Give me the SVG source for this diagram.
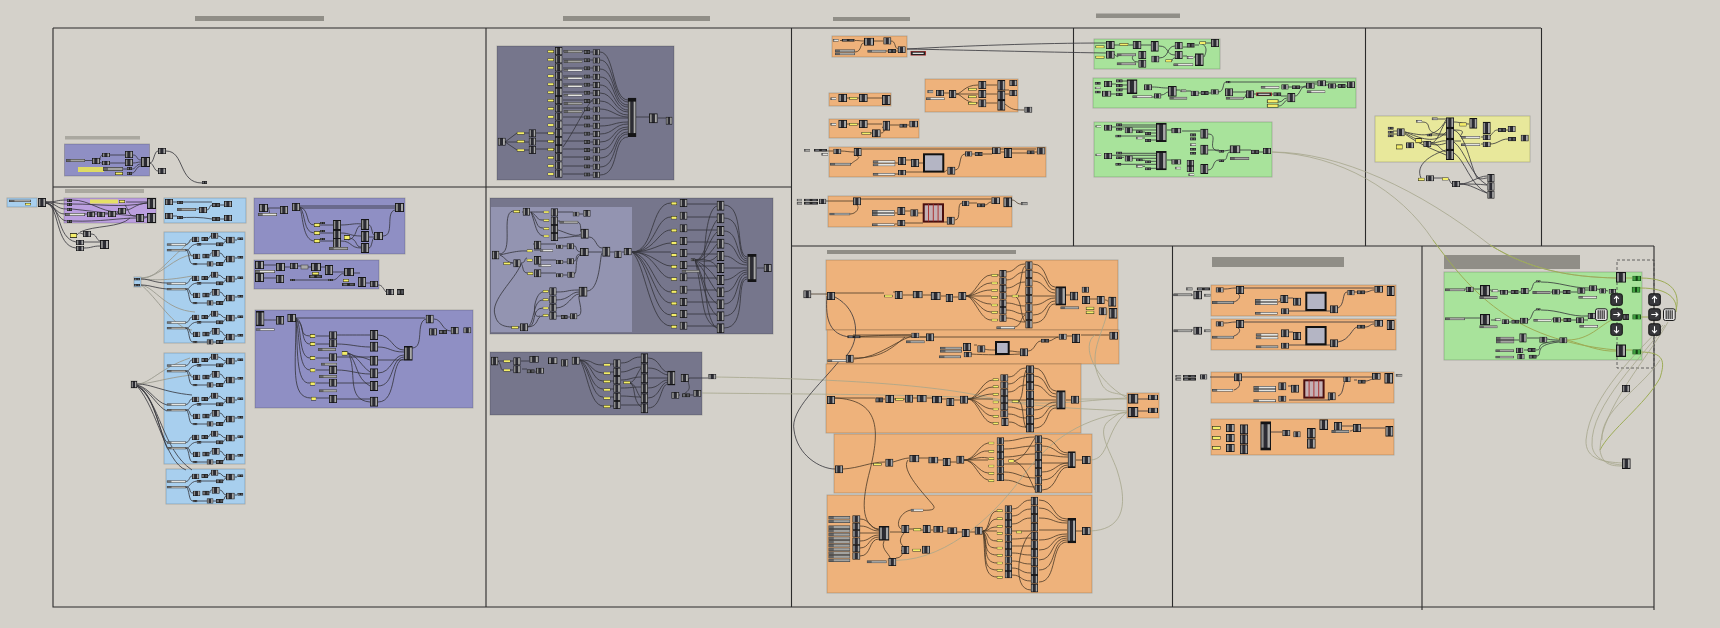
<svg xmlns="http://www.w3.org/2000/svg" width="1720" height="628" viewBox="0 0 1720 628">
<style>
.f{fill:none;stroke:#2b2b2b;stroke-width:1.1}
.t{fill:#908e87}
.p{stroke-width:1;stroke:#000;stroke-opacity:.18}
.o{fill:#eeb27b}.u{fill:#8f8fc4}.b{fill:#a8cfee}.k{fill:#76768c}.n{fill:#a8e39b}
.w,.v,.a,.q,.e{fill:none}
.w{stroke:#34343a;stroke-width:.8}
.v{stroke:#4a3a28;stroke-width:.8}
.a{stroke:#9a9a8e;stroke-width:.9}
.q{stroke:#9dac55;stroke-width:1}
.e{stroke:#a6a68c;stroke-width:.8}
</style>
<defs>
<symbol id="c" viewBox="0 0 10 10" preserveAspectRatio="none"><rect width="10" height="10" fill="#141416"/><rect x="1" y="1" width="2.2" height="8" fill="#8d8d8d"/><rect x="6.6" y="1" width="2.4" height="8" fill="#a8a8a8"/><rect x="3.4" y="1" width="3" height="8" fill="#2c2c34"/></symbol>
<symbol id="s" viewBox="0 0 10 10" preserveAspectRatio="none"><rect width="10" height="10" fill="#222"/><rect x="1" y="2" width="3" height="6" fill="#6f7076"/><rect x="6" y="2" width="3" height="6" fill="#55565c"/></symbol>
<symbol id="l" viewBox="0 0 10 10" preserveAspectRatio="none"><rect width="10" height="10" fill="#3c3c3c"/><rect x=".3" y="2" width="2" height="6" fill="#777"/><rect x="2.4" y="2" width="7.3" height="6" fill="#e4e4e0"/></symbol>
<symbol id="m" viewBox="0 0 10 10" preserveAspectRatio="none"><rect width="10" height="10" fill="#444"/><rect x=".3" y="2" width="2" height="6" fill="#666"/><rect x="2.4" y="2" width="7.3" height="6" fill="#a3a3a0"/></symbol>
<symbol id="y" viewBox="0 0 10 10" preserveAspectRatio="none"><rect width="10" height="10" fill="#2b2b20"/><rect x=".8" y="1.8" width="8.4" height="6.4" fill="#f4ee6a"/></symbol>
<symbol id="d" viewBox="0 0 10 10" preserveAspectRatio="none"><rect width="10" height="10" fill="#b93a3a"/><rect x=".5" y="1.2" width="9" height="7.6" fill="#222"/><rect x="1.5" y="3.6" width="7" height="2.8" fill="#ddd"/></symbol>
<symbol id="g" viewBox="0 0 10 10" preserveAspectRatio="none"><rect width="10" height="10" fill="#1a4d1a"/><rect x="1" y="1" width="3" height="8" fill="#3fa03f"/><rect x="6" y="1" width="3" height="8" fill="#3fa03f"/><rect x="4" y="1" width="2" height="8" fill="#154015"/></symbol>
<g id="sq"><rect x="1" y="1" width="19.3" height="17.3" fill="#b4b5c4" stroke="#111" stroke-width="2"/></g>
<g id="gd"><rect x="1" y="1" width="19.3" height="17.3" fill="#c4b0b4" stroke="#4a0f0f" stroke-width="2"/><path d="M5.8,1V18M10.6,1V18M15.4,1V18" stroke="#a33" stroke-width="1"/></g>
<g id="bt"><rect x=".5" y=".5" width="11.5" height="11.5" rx="2" fill="#38383c" stroke="#111"/></g>
<g id="gb"><rect x=".5" y=".5" width="11.7" height="11.7" rx="2" fill="#e4e4e4" stroke="#1a1a1a"/><path d="M3.2,2V10.7M5.2,2V10.7M7.2,2V10.7M9.2,2V10.7" stroke="#333" stroke-width="1.2"/></g>
<g id="up"><use href="#bt"/><path d="M6.2,9.5V3M3.8,5.5L6.2,3L8.6,5.5" fill="none" stroke="#fff" stroke-width="1.1"/></g>
<g id="rt"><use href="#bt"/><path d="M3,6.2H9.5M7.3,4L9.5,6.2L7.3,8.4" fill="none" stroke="#fff" stroke-width="1.1"/></g>
<g id="dn"><use href="#bt"/><path d="M6.2,3V9.5M3.8,7L6.2,9.5L8.6,7" fill="none" stroke="#fff" stroke-width="1.1"/></g>
<g id="mod">
<path class="w" d="M22,12.5C26,12 25,7 28,7M22,18C27,18 25,13 33,12M22,18C28,18 24,24 29,24M22,18C26,20 24,32 29,32M44,7C46,7 45,4 47,4M54,4C58,4 58,8 62,8M37,12H52M59,12C60,12 60,9 62,9M71,8H73M46,24C46,21 47,21 48,21M56,21C59,21 59,26 62,26M33,32H43M49,32H52M59,31C61,31 60,27 62,27M71,26H73"/>
<use href="#c" x="28" y="4.7" width="7.3" height="5.3"/><use href="#s" x="37.3" y="5" width="6.7" height="4"/><use href="#c" x="47" y=".7" width="7.3" height="6"/><use href="#c" x="62" y="4.7" width="8.7" height="6.7"/><use href="#s" x="73.3" y="5.3" width="6" height="2.7"/><use href="#s" x="32.7" y="11" width="4.7" height="2.7"/><use href="#s" x="52" y="10.3" width="7.3" height="4"/><use href="#c" x="29" y="21.7" width="7.3" height="5.3"/><use href="#s" x="38.3" y="21.7" width="7.3" height="4.7"/><use href="#c" x="47.7" y="18" width="8" height="6.7"/><use href="#c" x="62" y="23.7" width="8.7" height="6.7"/><use href="#s" x="73.3" y="24" width="6" height="2.7"/><use href="#s" x="28.7" y="31" width="4.7" height="2.3"/><use href="#c" x="42.7" y="29.3" width="6.7" height="5.3"/><use href="#s" x="52" y="30" width="7.3" height="4"/><use href="#l" x="2.7" y="11.3" width="19.3" height="2.5"/><use href="#m" x="2.7" y="17" width="19.3" height="2.5"/>
</g>
<g id="gr"><use href="#y" x="547.5" y="50" width="6.5" height="3"/><use href="#c" x="555" y="47" width="7.5" height="8.2"/><use href="#s" x="584" y="50" width="6" height="4"/><use href="#c" x="592.7" y="49.3" width="7.3" height="6"/></g>
<g id="gm"><use href="#w0"/><use href="#c" x="1104" y="124.7" width="8" height="6"/><use href="#s" x="1116" y="123.3" width="6" height="3"/><use href="#s" x="1116" y="128" width="6" height="2.7"/><use href="#s" x="1115.3" y="134.7" width="6" height="2.7"/><use href="#c" x="1124.7" y="127.3" width="8" height="6"/><use href="#l" x="1095.3" y="125.3" width="6" height="2.3"/><use href="#s" x="1136" y="130.3" width="6.7" height="2.7"/><use href="#s" x="1145" y="132" width="6" height="3"/><use href="#l" x="1136" y="136.7" width="6.7" height="2.7"/><use href="#s" x="1145" y="139" width="6" height="3"/><use href="#c" x="1156" y="122.7" width="10.7" height="19.3"/></g>
<path id="w0" class="w" d="M1112,127H1156M1122,125H1156M1122,129H1124M1132,130H1156M1121,136H1156M1142,132H1145M1151,133H1156M1143,138H1145M1151,140H1156"/>
</defs>
<rect width="1720" height="628" fill="#d4d1ca"/>
<g id="frames">
<path class="f" d="M53,28H1541M53,28V607H1654M53,187H791M486,28V607M791.5,28V607M1073.5,28V246M1365.5,28V246M1541.5,28V246M791,246H1654M1172.5,246V607M1422,246V610M1654,246V610"/>
<rect class="t" x="195" y="16" width="129" height="5"/><rect class="t" x="563" y="16" width="147" height="5"/><rect class="t" x="833" y="17" width="77" height="4"/><rect class="t" x="1096" y="13.5" width="84" height="4.5"/><rect class="t" x="827" y="250" width="189" height="4"/><rect class="t" x="1212" y="257" width="132" height="10"/><rect class="t" x="1444" y="255" width="136" height="14"/>
<rect x="65" y="136" width="75" height="3.5" fill="#aaa8a0"/><rect x="65" y="189" width="79" height="4" fill="#aaa8a0"/>
</g>
<g id="panels">
<rect class="p u" x="64.5" y="144" width="85" height="32"/><rect class="p" fill="#bb9fdf" x="64" y="198" width="92" height="25"/><rect class="p b" x="7" y="198" width="30" height="9"/><rect class="p b" x="164" y="198" width="82" height="25"/><rect class="p b" x="164" y="232" width="81" height="111"/><rect class="p b" x="164" y="353" width="81" height="111"/><rect class="p b" x="166" y="469" width="79" height="35"/><rect class="p b" x="134" y="277" width="7" height="10"/><rect class="p b" x="131" y="381" width="6" height="7"/>
<rect class="p u" x="254" y="198" width="151" height="56"/><rect class="p u" x="254" y="260" width="125" height="29"/><rect class="p u" x="255" y="310" width="218" height="98"/>
<rect class="p k" x="497" y="46" width="177" height="134"/><rect class="p k" x="490" y="198" width="283" height="136"/><rect x="491" y="207" width="141" height="125" fill="#9394b1"/><rect class="p k" x="490" y="352" width="212" height="63"/>
<rect class="p o" x="832" y="36" width="75" height="21"/><rect class="p o" x="925" y="79" width="93" height="33"/><rect class="p o" x="829" y="93" width="62" height="13"/><rect class="p o" x="829" y="119" width="90" height="19"/><rect class="p o" x="829" y="147" width="217" height="30"/><rect class="p o" x="828" y="196" width="184" height="31"/>
<rect class="p o" x="826" y="260" width="292" height="70"/><rect class="p o" x="827" y="330" width="292" height="34"/><rect class="p o" x="826" y="364" width="255" height="69"/><rect class="p o" x="834" y="434" width="258" height="59"/><rect class="p o" x="827" y="495" width="265" height="98"/><rect class="p o" x="1127" y="393" width="32" height="25"/>
<rect class="p o" x="1211" y="285" width="185" height="31"/><rect class="p o" x="1211" y="319" width="185" height="31"/><rect class="p o" x="1211" y="372" width="183" height="31"/><rect class="p o" x="1211" y="419" width="183" height="36"/>
<rect class="p n" x="1094" y="39" width="126" height="30"/><rect class="p n" x="1093" y="78" width="263" height="30"/><rect class="p n" x="1094" y="122" width="178" height="55"/><rect class="p" fill="#e8e89b" x="1375" y="116" width="155" height="46"/><rect class="p n" x="1444" y="272" width="198" height="88"/>
<rect x="1617" y="260" width="37" height="108" fill="none" stroke="#444" stroke-width=".8" stroke-dasharray="3 2"/>
</g>
<g id="connectors">
<path class="w" d="M46,202C58,202 55,200 67,200M46,202C58,202 56,204 67,204M46,202C58,204 56,209 67,209M46,203C56,205 55,214 65,214M46,203C56,205 58,221 67,221M46,203C62,205 56,238 76,242M46,203C60,206 55,246 76,248M84,242H100M84,248C92,248 92,246 100,246M77,235C79,232 80,233 83,234M91,234C97,234 96,240 100,241M72,200C90,200 100,212 118,212M72,204C100,204 120,208 147,203M72,209C100,212 120,215 147,217M85,214H87M95,214H97M105,214H108M116,214C118,214 118,211 118,211M126,210C132,210 135,204 147,203M72,221C100,222 120,218 136,218M126,202H147M144,218C146,218 146,217 147,217M125,205C130,212 128,216 136,216M130,218C120,228 95,225 80,232"/>
<path class="w" d="M150,163C154,163 154,151 158,151M150,163C154,164 154,171 158,171M166,151C185,151 178,183 202,183M85,160.5H92M100,160C100,156 102,155 102,155M100,162C100,163 102,163 102,163M110,155H125M110,163H125M133,155C138,155 136,160 141,160M133,163C137,163 137,162 141,162M123,169H127M132,169C136,169 136,164 141,164M132,173C136,173 136,166 141,166"/>
<path class="w" d="M177,202H212M173,202H177M196,209H199M207,210C210,210 209,205 212,205M177,218C190,217 200,217 212,219M220,205H224M220,219H224M173,216H177"/>
<path class="a" d="M141,278C157,278 160,267 192,240M141,278C160,278 175,255 193,255M141,279C150,279 160,282 192,276M141,285C155,287 165,310 195,312M141,285C155,295 175,330 192,330M137,384C150,384 160,368 190,358M137,384C150,384 165,378 192,375"/>
<path class="w" d="M141,279C150,279 155,283 167,283M141,285C150,285 155,288 167,289M137,384C152,384 162,392 192,395M137,385C150,388 155,402 167,405M137,385C150,390 158,408 167,411M137,386C155,392 160,440 168,443M137,386C155,394 163,445 168,449M137,386C160,400 162,450 192,470M137,386C158,410 165,462 186,470"/>
<path class="w" d="M268,208H280M268,208C272,215 265,214 277,214M300,206H395M300,208H395M300,207C310,210 305,225 314,225M300,207C306,215 303,232 314,233M300,207C303,218 303,240 314,241M320,225H333M320,233H333M320,241H333M341,225C350,225 355,223 361,224M341,233C350,233 350,236 361,236M341,241C352,241 350,248 361,248M348,240C358,238 355,225 361,226M350,238C358,240 355,247 361,247M369,225C372,225 372,235 374,235M369,237H374M369,248C372,248 372,238 374,238M383,236C395,236 385,212 395,210"/>
<path class="w" d="M264,265H276M264,278H276M285,267H290M298,266H301M308,267H311M321,267H325M333,272C338,272 338,272 344,272M295,280H328M333,280C338,280 340,272 344,274M352,273H360M378,285C382,285 382,287 386,292M366,283H370"/>
<path class="w" d="M264,320C270,320 270,320 276,320M296,318H425M296,320C306,325 298,336 310,336M296,318C305,322 300,344 310,344M296,318C302,325 298,358 310,358M296,318C300,335 298,370 310,370M296,318C298,345 295,385 310,383M296,318C296,365 290,398 311,398M316,336H329M316,344H329M316,358H329M316,370H329M316,383H329M316,398H329M337,335C350,335 355,335 370,335M337,344C350,344 358,347 370,347M337,357H370M337,370C350,370 358,374 370,374M337,383H370M337,399H370M348,353C358,358 358,355 370,360M348,353C360,358 360,365 370,372M348,353C358,362 355,378 370,386M348,353C358,370 345,400 370,402M378,335C392,335 392,350 404,350M378,347C390,347 390,352 404,352M378,360H404M378,373C392,373 392,355 404,355M378,386C395,386 390,358 404,357M378,402C398,402 390,360 404,359M412,348C425,348 415,322 426,319M434,319C442,319 442,331 451,331"/>
<path class="w" d="M505,142L517,133M505,142H517M505,142L517,150M525,133H529M525,142H529M525,150H529M536,133H555M536,141H555M536,149H555M600,52C615,52 612,100 628,100M600,60C615,60 612,102 628,102M600,69C616,69 612,105 628,105M600,77C616,77 612,107 628,107M600,85C614,85 614,110 628,110M600,93C614,93 614,112 628,112M600,101C614,101 614,115 628,115M600,109C612,109 616,117 628,117M600,118H628M600,126C614,126 614,122 628,122M600,134C614,134 614,124 628,124M600,142C616,142 612,127 628,127M600,150C616,150 612,129 628,129M600,158C618,158 612,132 628,132M600,167C618,167 612,134 628,134M600,175C620,175 612,137 628,137M636,117H649M658,118H666M563,51H584M563,59H584M563,68H584M563,76H584M563,84H584M563,92H584M563,100H584M563,108H584M563,117H584M563,125H584M563,133H584M563,141H584M563,149H584M563,157H584M563,166H584M563,174H584M590,52H593M590,60H593M590,68H593M590,77H593M590,85H593M590,93H593M590,101H593M590,109H593M590,118H593M590,126H593M590,134H593M590,142H593M590,150H593M590,158H593M590,166H593M590,175H593"/>
<path class="w" stroke-width="1.3" d="M563,147C575,130 582,112 593,99"/>
<path class="w" d="M499,254C515,254 500,213 513,211M522,212H530M530,212C540,212 538,212 543,212M531,212C540,218 536,220 543,220M531,212C538,222 536,228 543,228M531,212C536,226 536,234 543,236M558,212H573M579,214H583M558,221H560M578,222C582,224 580,230 581,232M558,230C565,232 575,238 581,234M558,238C566,238 572,236 581,236M500,255C506,258 506,262 513,263M511,263H513M500,255C520,250 524,251 527,251M521,263C526,263 524,258 527,258M521,263C524,268 522,272 527,273M521,264C515,280 490,300 495,315C498,328 508,327 520,327M540,250H534M533,244H534M541,244H556M541,260H556M541,273H556M563,246H567M563,262H567M563,275H567M574,246C578,246 574,250 580,252M574,261C578,261 574,255 580,254M574,274C578,274 574,258 580,255M588,252H602M589,237C596,237 596,248 602,248M610,252H614M622,252H624M540,316C530,320 535,292 543,292M527,327C535,325 532,300 543,300M527,327C538,327 530,308 543,308M527,327C540,327 535,316 543,316M556,292C570,292 565,290 579,290M556,300C570,300 570,292 579,292M556,308C568,308 572,294 579,294M556,316H561M567,317H570M577,316C585,316 578,300 579,296M587,291C600,291 600,255 602,253"/>
<path class="w" d="M632,252C655,252 650,203 671,203M632,252C655,252 655,217 671,217M632,252C655,252 658,230 671,230M632,252C652,252 660,243 671,243M632,252H671M632,252C652,252 660,266 671,266M632,252C655,252 658,278 671,278M632,252C652,256 655,292 671,292M632,252C650,258 655,303 671,303M632,252C650,260 652,315 671,315M632,252C645,262 650,326 671,326M687,204H717M687,217H717M687,230H717M687,242H717M687,254H717M687,266H717M687,278H717M687,290H717M687,302H717M687,314H717M687,326H717M724,205C745,205 735,256 747,257M724,218C745,218 735,258 747,259M724,231C740,231 735,260 747,261M724,243C738,243 735,262 747,263M724,256C735,256 735,265 747,265M724,268H747M724,280C735,280 738,270 747,270M724,292C738,292 735,272 747,272M724,304C740,304 735,274 747,274M724,316C745,316 735,277 747,277M724,328C748,328 735,279 747,279M757,268H764M695,260C700,258 715,260 717,268M695,260C705,262 712,262 717,256M695,260C705,262 712,250 717,244M695,260C705,262 708,240 717,232M695,260C705,262 708,230 717,220M695,260C705,265 712,272 717,280M695,260C705,270 708,280 717,292M695,260C705,280 705,295 717,304M695,260C705,285 705,305 717,316M695,260C705,300 700,320 717,328M717,206C700,210 700,320 717,328"/>
<path class="w" d="M498,361C502,361 500,361 503,361M498,361C502,365 500,370 503,370M510,361H513M510,370H513M521,361H529M522,369H527M535,372H536M580,360C595,360 590,365 603,365M580,360C592,362 590,372 603,373M580,360C592,362 592,381 603,381M580,360C590,365 590,388 603,389M580,360C590,370 592,397 603,397M580,360C588,375 590,405 603,406M610,364H614M610,372H614M610,381H614M610,389H614M610,397H614M610,406H614M621,363C632,363 630,357 641,357M621,372C630,372 632,367 641,367M621,380C630,380 632,377 641,377M621,388C632,388 630,387 641,387M621,396C630,396 632,397 641,397M621,405H641M630,383C636,380 636,375 641,368M630,383C636,384 636,392 641,398M630,383C636,385 632,400 641,407M648,358C660,358 660,372 668,372M648,368C660,368 660,374 668,375M648,378H668M648,388C660,388 660,380 668,380M648,398C660,398 660,382 668,382M648,408C662,408 660,384 668,384M689,378H708M689,378C686,385 695,388 682,395M680,395H672M690,395H693"/>
<path class="e" d="M716,377C770,378 900,380 977,395C1040,410 1080,400 1127,398M702,393C780,394 900,394 982,398C1040,408 1090,409 1127,411"/>
<path class="w" d="M907,49C960,46 1040,43 1106,43M907,49C960,50 1040,52 1106,53"/>
<path class="v" d="M840,40.5H842M855,40.5C860,40.5 860,41 864,41M855,52C862,52 860,42 864,43M874,41H883M891,41C896,41 894,48 898,49M886,51H888M896,51H898M944,93H949M956,94C962,94 964,85 978,85M956,94H978M956,94C962,94 964,103 978,103M986,85H997M986,94H997M986,103H997M1005,90H1009M1005,94H1009M1005,104C1012,110 1015,110 1024,110M846,98H849M858,98H859M867,98H882M846,124H849M858,124H859M867,124H882M890,125H899M907,125H909M871,133H872M881,133C885,133 885,128 882,127"/>
<path class="v" d="M827,151H833M841,151C846,151 848,152 854,152M862,149H1036M851,164C855,160 862,158 857,156M895,163H898M895,174H898M906,172H923M906,160H911M919,163H923M944,172C946,172 946,170 947,170M955,170C962,170 958,154 965,154M972,154H975M983,154H992M1001,152H1004M1012,153H1027M1035,152H1037M826,201H853M861,199H991M850,214C856,214 860,208 857,205M895,213H897M895,224H897M905,223H923M905,211H910M918,213H923M944,222H947M955,220C962,220 956,203 962,203M969,203H977M985,205C988,205 988,202 991,202M1012,200C1016,200 1016,204 1021,204"/>
<path class="v" d="M811,294H827M835,293H884M893,292H895M903,295H913M923,295H931M941,296H946M953,297H958M966,296C975,296 980,275 991,275M966,296C975,296 980,283 991,283M966,296C975,296 980,290 991,290M966,296H991M966,296C975,296 980,304 991,304M966,296C975,296 980,312 991,312M966,296C975,297 980,320 991,320M998,275H999M1006,272C1016,272 1015,264 1025,264M1006,280C1016,280 1015,272 1025,272M1006,288C1016,288 1015,282 1025,282M1006,296H1025M1006,303C1016,303 1015,306 1025,306M1006,310C1016,310 1015,314 1025,314M1006,318C1016,318 1015,322 1025,322M1033,264C1048,264 1045,287 1055,287M1033,272C1048,272 1045,290 1055,290M1033,281C1045,281 1045,293 1055,293M1033,296H1055M1033,305C1045,305 1045,298 1055,298M1033,315C1048,315 1045,301 1055,301M1033,323C1050,323 1045,304 1055,304M1066,295H1070M1015,296C1022,290 1020,270 1025,266M1015,296C1022,300 1020,315 1025,322M1015,327C1022,325 1020,318 1025,315M1089,299H1097M1105,300C1108,300 1106,301 1108,301"/>
<path class="v" d="M853,335H911M853,337C870,336 885,335 911,335M920,337H926M854,358C880,358 890,350 905,337M919,334C900,337 880,358 854,359M860,337H1058M1067,336H1072M1081,335H1109M974,345H977M983,348C985,350 990,350 995,350M1009,351C1014,351 1016,352 1020,352M1028,351C1035,351 1035,341 1041,341M1049,341C1052,341 1055,337 1059,337M971,354C985,355 1005,355 1020,354"/>
<path class="v" d="M835,398H875M883,399H885M894,399H895M904,399H905M913,398H917M927,398H932M942,399H946M954,400H960M968,399C978,399 982,380 993,380M968,399C978,399 982,387 993,387M968,399C978,399 982,394 993,394M968,399H993M968,399C978,399 982,409 993,409M968,399C978,399 982,416 993,416M968,399C978,400 982,423 993,423M1008,377C1018,377 1016,368 1026,368M1008,384C1018,384 1016,376 1026,376M1008,392C1018,392 1016,385 1026,385M1008,400H1026M1008,407C1018,407 1016,410 1026,410M1008,414C1018,414 1016,418 1026,418M1009,422C1018,422 1016,427 1026,427M1034,368C1048,368 1045,391 1056,391M1034,376C1048,376 1045,394 1056,394M1034,385C1046,385 1045,397 1056,397M1034,400H1056M1034,410C1046,410 1045,402 1056,402M1034,419C1048,419 1045,405 1056,405M1034,428C1050,428 1045,408 1056,408M1066,400H1071M1019,401C1024,396 1022,380 1026,370M1019,401C1024,405 1022,420 1026,428"/>
<path class="w" d="M840,360C820,385 790,410 794,430C797,455 820,469 835,469M835,297C860,310 860,340 847,355M827,296C825,320 830,335 850,337"/>
<path class="v" d="M835,398C880,400 880,430 870,470C862,500 860,525 879,530M843,469C860,468 870,462 885,462M893,462C900,460 905,458 909,458M919,458H928M938,460H943M950,462H956M964,460C975,460 978,445 988,443M964,460C975,460 978,450 988,451M964,460C975,460 978,456 988,458M964,460H988M964,460C975,460 978,472 988,473M964,460C975,460 978,478 988,480M1004,441C1018,441 1020,437 1035,437M1004,449C1018,449 1020,446 1035,446M1004,457C1018,457 1020,454 1035,454M1004,464H1035M1004,472C1018,472 1020,478 1035,478M1004,480C1018,480 1020,487 1035,487M1042,438C1058,438 1055,453 1068,453M1042,446C1056,446 1056,455 1068,455M1042,455C1056,455 1055,457 1068,457M1042,463H1068M1042,472C1056,472 1056,463 1068,463M1042,480C1058,480 1056,465 1068,465M1042,490C1058,490 1056,467 1068,467M1076,460H1082M1014,461C1025,458 1030,445 1035,438M1014,461C1025,465 1030,480 1035,490M908,460C900,470 925,495 933,505C938,512 925,510 911,510C900,512 895,525 901,529M906,548C900,545 898,540 904,533"/>
<path class="v" d="M860,519C870,519 870,529 879,529M860,526C870,526 870,531 879,531M860,533H879M860,541C870,541 870,535 879,535M860,548C870,548 868,537 879,537M860,556C872,556 868,539 879,539M890,532H901M909,529H913M921,530H923M931,530H933M943,531H947M957,532H962M970,532H975M890,560C892,555 880,550 884,541M896,558C902,558 904,552 901,550M983,531C990,531 988,511 997,511M983,531C990,531 988,519 997,519M983,531C990,531 988,527 997,527M983,531H997M983,531C990,533 986,541 997,541M983,531C990,540 984,548 997,548M983,531C988,540 982,555 997,555M983,531C988,545 982,563 997,563M983,531C988,550 980,570 997,570M983,531C986,555 982,577 997,577M1012,509C1022,509 1020,500 1031,500M1012,516C1022,516 1020,509 1031,509M1012,524C1022,524 1020,518 1031,518M1012,531H1031M1012,539C1022,539 1020,538 1031,538M1012,546C1022,546 1020,546 1031,546M1012,553C1022,553 1020,555 1031,555M1012,561C1022,561 1020,564 1031,564M1012,568C1022,568 1020,573 1031,573M1012,575C1022,575 1020,581 1031,581M1031,590C1010,590 1020,540 1031,533M1039,500C1055,500 1052,519 1067,519M1039,508C1055,508 1052,521 1067,521M1039,518C1055,518 1052,523 1067,523M1039,530H1067M1039,540C1055,540 1052,534 1067,534M1039,550C1055,550 1050,536 1067,536M1039,560C1055,560 1050,538 1067,538M1039,570C1058,570 1050,540 1067,540M1039,582C1058,582 1050,542 1067,542M1076,531H1082"/>
<path class="e" d="M887,560C940,565 990,520 1020,480C1045,445 1075,420 1127,412M1090,531C1120,530 1130,510 1117,470C1110,450 1095,430 1110,420C1118,414 1120,412 1127,413M1090,460C1110,460 1105,430 1127,412M1110,296C1108,330 1085,350 1100,380C1105,395 1115,392 1127,396M1095,335C1080,345 1095,380 1127,398M1079,399H1127"/>
<path class="w" d="M1138,399H1148M1138,411H1148"/>
<path class="w" d="M1114,45H1119M1129,45H1133M1114,54C1120,60 1118,54 1117,54M1136,54C1130,56 1132,62 1138,62M1141,45H1151M1159,46C1170,46 1165,55 1175,55M1159,58C1170,58 1166,46 1175,46M1183,47H1187M1195,45H1199M1206,43H1211M1172,61C1172,58 1175,58 1175,58M1199,43C1210,45 1205,55 1204,57M1183,56H1187M1194,57H1195"/>
<path class="w" d="M1112,84C1116,84 1116,84 1116,84M1110,94H1116M1122,85H1127M1122,89H1127M1122,81H1127M1152,87C1160,87 1160,88 1168,88M1152,97H1154M1161,95C1165,95 1166,92 1168,92M1176,90H1180M1186,91H1191M1198,93H1201M1208,93H1211M1218,92C1225,92 1222,82 1226,82M1231,82H1347M1233,92H1246M1243,98C1246,98 1246,94 1246,94M1254,94H1256M1272,94H1273M1281,96H1287M1279,102C1283,102 1283,98 1287,98M1279,106C1283,106 1285,100 1287,100M1295,96C1300,96 1300,86 1306,86M1288,87H1292M1300,87H1306M1315,84H1317M1326,85H1328M1336,86H1338M1346,86H1347"/>
<path class="w" d="M1167,130H1172M1167,160H1172M1208,134C1220,134 1205,150 1219,151M1208,150H1219M1208,170C1215,170 1212,160 1219,160M1224,151C1226,151 1228,150 1230,150M1224,160C1228,160 1226,152 1230,152M1240,150H1251M1259,152H1263M1182,131H1200"/>
<path class="w" d="M1393,131H1397M1393,134H1397M1405,132C1420,135 1435,140 1446,120M1405,132C1420,138 1435,145 1446,132M1405,133C1420,142 1435,148 1446,143M1405,134C1420,145 1435,150 1446,155M1422,122C1435,122 1420,135 1446,134M1437,119H1446M1432,135H1446M1414,144H1406M1431,143C1438,143 1442,125 1446,122M1431,143C1438,143 1442,140 1446,141M1431,143C1438,143 1440,150 1446,152M1454,122C1460,122 1462,124 1469,124M1454,130C1470,130 1458,135 1461,137M1454,141H1461M1481,137H1483M1481,144H1483M1490,136C1494,132 1494,130 1498,130M1490,144C1498,144 1500,139 1508,139M1506,130H1508M1454,130C1466,135 1470,165 1477,178C1480,180 1485,178 1487,178M1454,142C1465,150 1470,175 1487,185M1454,153C1465,160 1470,185 1487,193M1446,150C1430,155 1415,165 1421,178M1433,178H1442M1449,179C1450,182 1451,183 1452,184M1460,184C1470,184 1478,176 1487,176M1460,184C1470,184 1478,184 1487,185M1460,184C1470,184 1478,190 1487,193"/>
<path class="w" d="M1173,295H1192M1191,295H1193M1224,289C1230,289 1230,288 1236,288M1244,288H1374M1234,302C1240,300 1241,295 1238,294M1278,302C1282,302 1280,298 1280,298M1288,298H1293M1289,311H1330M1338,308C1345,305 1342,292 1347,292M1354,292H1357M1365,292C1370,292 1370,290 1374,290M1224,323C1230,323 1230,322 1236,322M1244,322H1374M1234,336C1240,334 1241,329 1238,328M1289,345H1330M1338,342C1350,340 1352,328 1357,327M1365,327C1370,327 1370,324 1374,324M1288,332H1293"/>
<path class="w" d="M1191,330H1193M1210,377H1236M1242,377H1374M1234,390C1240,388 1241,383 1238,380M1289,400H1330M1338,396C1345,394 1342,380 1347,380M1354,380H1357M1365,381C1370,381 1370,379 1374,379M1205,378H1206M1288,386H1293"/>
<path class="w" d="M1271,432H1282M1342,426H1353M1361,428H1385M1350,431C1352,431 1352,430 1353,430"/>
<path class="w" d="M1474,289H1480M1465,289H1466M1490,290H1491M1498,291H1500M1508,292H1511M1519,292H1521M1529,291C1533,291 1532,282 1536,282M1541,282C1560,282 1570,288 1589,288M1551,292H1552M1560,292H1563M1571,292H1577M1585,290H1589M1597,289C1602,290 1604,290 1608,291M1465,318H1480M1491,320H1495M1501,321H1501M1509,322H1511M1519,321H1520M1528,320C1532,320 1532,310 1536,310M1541,310C1560,310 1570,317 1588,316M1552,319H1553M1561,320H1563M1571,320H1576M1584,320H1588M1514,340H1519M1527,338H1539M1547,339C1552,340 1554,340 1559,340M1524,350C1530,350 1535,350 1527,350M1536,350C1545,350 1530,343 1559,341M1536,356C1545,356 1530,345 1559,342"/>
<path class="q" d="M1567,340C1590,340 1600,325 1612,320M1567,340C1585,345 1600,352 1616,351M1626,278H1632M1626,350H1632M1560,320H1565"/>
<path class="e" d="M1272,152C1340,152 1420,190 1490,245C1530,270 1570,277 1616,278M1272,152C1340,155 1400,190 1433,240"/>
<path class="q" d="M1433,240C1470,290 1510,340 1616,350M1490,245C1530,270 1570,277 1616,278M1640,278C1675,278 1680,295 1676,310M1640,288C1670,288 1678,300 1676,312M1640,317H1648M1640,352C1665,352 1665,362 1660,378C1645,405 1610,430 1600,450"/>
<path class="e" d="M1663,325C1640,350 1590,395 1586,440C1585,460 1605,462 1622,463M1665,325C1645,355 1590,405 1592,445C1593,460 1610,464 1622,465M1668,322C1650,355 1600,410 1600,450C1602,465 1612,466 1622,466M1660,360C1640,390 1600,410 1602,440"/>
</g>
<g id="input"><use href="#m" x="9" y="199.5" width="22" height="2.5"/><use href="#y" x="25" y="203" width="6" height="2.5"/><use href="#c" x="38" y="198" width="8" height="9"/></g>
<g id="group-a"><use href="#m" x="66" y="159" width="19" height="3"/><use href="#c" x="92" y="158" width="8" height="6"/><use href="#c" x="102" y="153" width="8" height="4"/><use href="#c" x="102" y="161" width="8" height="4"/><use href="#c" x="125" y="151" width="8" height="7"/><use href="#c" x="125" y="159" width="8" height="7"/><use href="#c" x="141" y="157" width="9" height="10"/><rect x="78" y="167" width="26" height="5" fill="#dedb63"/><use href="#m" x="103" y="167" width="20" height="4"/><use href="#s" x="127" y="167" width="5" height="3"/><use href="#s" x="127" y="172" width="5" height="3"/><use href="#y" x="115" y="172" width="8" height="3"/><use href="#c" x="158" y="148" width="8" height="6"/><use href="#c" x="158" y="168" width="8" height="6"/><use href="#s" x="202" y="181" width="5" height="3"/></g>
<g id="group-b"><use href="#s" x="67" y="199" width="5" height="3"/><use href="#s" x="67" y="203" width="5" height="3"/><use href="#s" x="67" y="208" width="5" height="3"/><use href="#l" x="65" y="213" width="20" height="3"/><use href="#s" x="67" y="220" width="5" height="3"/><rect x="90" y="199.5" width="28" height="4" fill="#e5e066"/><use href="#y" x="119" y="200" width="6" height="3"/><use href="#c" x="87" y="212" width="8" height="5"/><use href="#c" x="97" y="212" width="8" height="5"/><use href="#c" x="108" y="211" width="8" height="6"/><use href="#c" x="118" y="208" width="8" height="6"/><use href="#c" x="147" y="198" width="9" height="11"/><use href="#c" x="147" y="213" width="9" height="10"/><use href="#c" x="136" y="214" width="8" height="8"/><use href="#y" x="70" y="233" width="7" height="5"/><use href="#c" x="83" y="231" width="8" height="6"/><use href="#c" x="76" y="240" width="8" height="5"/><use href="#c" x="76" y="246" width="8" height="5"/><use href="#c" x="100" y="240" width="9" height="9"/></g>
<g id="group-c"><use href="#c" x="165" y="199" width="8" height="6"/><use href="#c" x="165" y="213" width="8" height="6"/><use href="#s" x="177" y="201" width="6" height="3"/><use href="#m" x="177" y="208" width="19" height="3"/><use href="#s" x="177" y="216" width="6" height="3"/><use href="#c" x="199" y="207" width="8" height="6"/><use href="#s" x="212" y="203" width="8" height="4"/><use href="#s" x="212" y="217" width="8" height="4"/><use href="#c" x="224" y="201" width="8" height="6"/><use href="#c" x="224" y="215" width="8" height="6"/></g>
<g id="group-d"><use href="#s" x="134" y="278" width="6" height="2.5"/><use href="#s" x="134" y="284" width="6" height="2.5"/><use href="#c" x="131" y="381" width="6" height="7"/>
<use href="#mod" x="164" y="232"/><use href="#mod" x="164" y="271"/><use href="#mod" x="164" y="310"/><use href="#mod" x="164" y="353"/><use href="#mod" x="164" y="392"/><use href="#mod" x="164" y="430"/><use href="#mod" x="164" y="469"/></g>
<g id="group-e"><use href="#c" x="259" y="204" width="9" height="8"/><use href="#c" x="280" y="206" width="8" height="8"/><use href="#l" x="258" y="213" width="19" height="3"/><use href="#c" x="292" y="203" width="8" height="8"/><use href="#c" x="395" y="203" width="9" height="9"/><use href="#y" x="314" y="223" width="6" height="4"/><use href="#y" x="314" y="231" width="6" height="4"/><use href="#y" x="314" y="239" width="6" height="4"/><use href="#s" x="320" y="222" width="5" height="2"/><use href="#s" x="320" y="230" width="5" height="2"/><use href="#s" x="320" y="238" width="5" height="2"/><use href="#c" x="333" y="220" width="8" height="10"/><use href="#c" x="333" y="230" width="8" height="9"/><use href="#c" x="333" y="238" width="8" height="10"/><use href="#y" x="344" y="235" width="6" height="5"/><use href="#c" x="361" y="219" width="8" height="11"/><use href="#c" x="361" y="231" width="8" height="11"/><use href="#c" x="361" y="243" width="8" height="10"/><use href="#c" x="374" y="232" width="9" height="8"/><use href="#m" x="329" y="247" width="19" height="3"/></g>
<g id="group-f"><use href="#c" x="255" y="261" width="9" height="8"/><use href="#l" x="255" y="270" width="20" height="3"/><use href="#c" x="255" y="273" width="9" height="9"/><use href="#c" x="276" y="263" width="9" height="8"/><use href="#c" x="276" y="275" width="8" height="8"/><use href="#c" x="290" y="263" width="8" height="6"/><rect x="301" y="265" width="7" height="4" fill="#aaa" stroke="#333" stroke-width=".5"/><use href="#c" x="311" y="263" width="10" height="8"/><use href="#c" x="325" y="265" width="8" height="10"/><use href="#c" x="344" y="268" width="10" height="8"/><use href="#y" x="312" y="272" width="7" height="3"/><use href="#s" x="309" y="275" width="13" height="3"/><use href="#s" x="290" y="279" width="5" height="2"/><use href="#s" x="328" y="279" width="5" height="2"/><use href="#c" x="358" y="277" width="8" height="10"/><use href="#y" x="343" y="279" width="6" height="3"/><use href="#s" x="342" y="283" width="13" height="3"/><use href="#c" x="370" y="281" width="8" height="6"/><use href="#c" x="386" y="289" width="8" height="6"/><use href="#s" x="397" y="289" width="7" height="6"/></g>
<g id="group-g"><use href="#c" x="255.7" y="311" width="8.7" height="15.3"/><use href="#l" x="255.7" y="328.3" width="19" height="2.5"/><use href="#c" x="276" y="316" width="8" height="8.7"/><use href="#c" x="287.3" y="314" width="8.7" height="8"/><use href="#c" x="425.7" y="314.7" width="8" height="8.7"/><use href="#y" x="310" y="334" width="5.3" height="4"/><use href="#y" x="310" y="342" width="5.3" height="4"/><use href="#y" x="310" y="356" width="5.3" height="4"/><use href="#y" x="310" y="368.3" width="5.3" height="4"/><use href="#y" x="310" y="381.7" width="5.3" height="4"/><use href="#y" x="311" y="396.7" width="5.3" height="4"/><use href="#c" x="329" y="331.3" width="8" height="8"/><use href="#c" x="329" y="339.3" width="8" height="8"/><use href="#c" x="329" y="353.3" width="8" height="8"/><use href="#c" x="329" y="366" width="8" height="8"/><use href="#c" x="329" y="378.7" width="8" height="8"/><use href="#c" x="329" y="395" width="8" height="8"/><use href="#m" x="318" y="348" width="18" height="3"/><use href="#m" x="321" y="362.7" width="16" height="3"/><use href="#m" x="319" y="375" width="18" height="3"/><use href="#m" x="319" y="389.3" width="18" height="3"/><use href="#y" x="341.7" y="351" width="6" height="4.7"/><use href="#c" x="370" y="330" width="8" height="10"/><use href="#c" x="370" y="341.7" width="8" height="10"/><use href="#c" x="370" y="355.7" width="8" height="10"/><use href="#c" x="370" y="368.3" width="8" height="10"/><use href="#c" x="370" y="381" width="8" height="10"/><use href="#c" x="370" y="396.7" width="8" height="10"/><use href="#c" x="404" y="346" width="8.7" height="14.7"/><use href="#c" x="429" y="328.3" width="8" height="7.3"/><use href="#s" x="439" y="330" width="8" height="4"/><use href="#c" x="450.7" y="327" width="8" height="7.3"/><use href="#c" x="463.3" y="327.3" width="8" height="6"/></g>
<g id="group-h"><use href="#gr"/><use href="#gr" y="8.17"/><use href="#gr" y="16.3"/><use href="#gr" y="24.5"/><use href="#gr" y="32.7"/><use href="#gr" y="40.8"/><use href="#gr" y="49"/><use href="#gr" y="57.2"/><use href="#gr" y="65.4"/><use href="#gr" y="73.5"/><use href="#gr" y="81.7"/><use href="#gr" y="89.9"/><use href="#gr" y="98"/><use href="#gr" y="106.2"/><use href="#gr" y="114.4"/><use href="#gr" y="122.5"/>
<use href="#m" x="563.5" y="50" width="19" height="3"/><use href="#m" x="563.5" y="60" width="19" height="3"/><use href="#l" x="563.5" y="69" width="19" height="2.5"/><use href="#l" x="563.5" y="77" width="19" height="2.5"/><use href="#l" x="563.5" y="85" width="19" height="2.5"/><use href="#l" x="563.5" y="94" width="19" height="2.5"/><use href="#m" x="563.5" y="102" width="19" height="3"/><use href="#m" x="563.5" y="110" width="19" height="3"/>
<use href="#c" x="627.7" y="97.7" width="8.7" height="39.3"/><use href="#c" x="649" y="113.3" width="8.7" height="10"/><use href="#c" x="665.7" y="116.7" width="6.7" height="8"/><use href="#c" x="497.7" y="137.7" width="8" height="8"/><use href="#y" x="516.7" y="131.7" width="8" height="3"/><use href="#y" x="516.7" y="140" width="8" height="3"/><use href="#y" x="516.7" y="148.7" width="8" height="3"/><use href="#c" x="528.7" y="129.3" width="7.3" height="8"/><use href="#c" x="528.7" y="137.6" width="7.3" height="8"/><use href="#c" x="528.7" y="145.9" width="7.3" height="8"/></g>
<g id="group-i"><use href="#c" x="492" y="250.7" width="7.3" height="8.7"/><use href="#y" x="513.3" y="210" width="6.7" height="3"/><use href="#c" x="522.7" y="207.7" width="7.3" height="8"/><use href="#y" x="543.3" y="210.7" width="6" height="2.7"/><use href="#y" x="543.3" y="219" width="6" height="2.7"/><use href="#y" x="543.3" y="227.3" width="6" height="2.7"/><use href="#y" x="543.3" y="234.7" width="6" height="2.7"/><use href="#c" x="550.7" y="208.3" width="7.3" height="8.2"/><use href="#c" x="550.7" y="216.5" width="7.3" height="8.5"/><use href="#c" x="550.7" y="225" width="7.3" height="8"/><use href="#c" x="550.7" y="233" width="7.3" height="8"/><use href="#c" x="572.7" y="211.7" width="6.7" height="4.7"/><use href="#c" x="583.3" y="210" width="7.3" height="6.7"/><use href="#m" x="559.3" y="220.7" width="19" height="3"/><use href="#c" x="580.7" y="228.7" width="8" height="10"/><use href="#c" x="580" y="248" width="8.7" height="8"/><use href="#c" x="602.3" y="246.7" width="8" height="10"/><use href="#c" x="614.3" y="250.7" width="7.3" height="7.3"/><use href="#c" x="623.7" y="248" width="8" height="7.3"/><use href="#c" x="513.3" y="259.3" width="7.3" height="8"/><use href="#y" x="503.3" y="262" width="7.3" height="3"/><use href="#y" x="526.7" y="249.3" width="6" height="3"/><use href="#y" x="526.7" y="258.7" width="6" height="3"/><use href="#y" x="527.3" y="272" width="6" height="3"/><use href="#c" x="534" y="240.7" width="7.3" height="8.7"/><use href="#c" x="534" y="256" width="7.3" height="8.7"/><use href="#c" x="534" y="269.3" width="7.3" height="8"/><use href="#l" x="540" y="249.3" width="13" height="2.5"/><use href="#l" x="538.3" y="264.3" width="13" height="2.5"/><use href="#c" x="556" y="244.7" width="7.3" height="4"/><use href="#c" x="556" y="260" width="7.3" height="4"/><use href="#c" x="556" y="273.3" width="7.3" height="4"/><use href="#c" x="566.7" y="243.3" width="7.3" height="6"/><use href="#c" x="566.7" y="258.3" width="7.3" height="6"/><use href="#c" x="567.3" y="271.7" width="7.3" height="6"/><use href="#y" x="542.7" y="290" width="6" height="2.7"/><use href="#y" x="542.7" y="298.3" width="6" height="2.7"/><use href="#y" x="542.7" y="306.7" width="6" height="2.7"/><use href="#y" x="542.7" y="314" width="6" height="2.7"/><use href="#c" x="549.3" y="287.3" width="7.3" height="8.2"/><use href="#c" x="549.3" y="295.5" width="7.3" height="8.2"/><use href="#c" x="549.3" y="303.7" width="7.3" height="8"/><use href="#c" x="549.3" y="311.7" width="7.3" height="8"/><use href="#s" x="561" y="315" width="6.7" height="4"/><use href="#c" x="570" y="313.3" width="7.3" height="6"/><use href="#c" x="578.7" y="286.7" width="8.7" height="10"/><use href="#c" x="520" y="323.3" width="8" height="8"/><use href="#y" x="511.3" y="326" width="7.3" height="3"/></g>
<g id="group-j"><use href="#y" x="671" y="201.7" width="6" height="3.5"/><use href="#y" x="671" y="216" width="6" height="3.5"/><use href="#y" x="671" y="228.7" width="6" height="3.5"/><use href="#y" x="671" y="241.3" width="6" height="3.5"/><use href="#y" x="671" y="253.3" width="6" height="3.5"/><use href="#y" x="671" y="265" width="6" height="3.5"/><use href="#y" x="671" y="277.3" width="6" height="3.5"/><use href="#y" x="671" y="290" width="6" height="3.5"/><use href="#y" x="671" y="301.7" width="6" height="3.5"/><use href="#y" x="671" y="313.3" width="6" height="3.5"/><use href="#y" x="671" y="325" width="6" height="3.5"/>
<use href="#c" x="679.7" y="199" width="7.7" height="8"/><use href="#c" x="679.7" y="211.7" width="7.7" height="8"/><use href="#c" x="679.7" y="224.3" width="7.7" height="8"/><use href="#c" x="679.7" y="237" width="7.7" height="8"/><use href="#c" x="679.7" y="249" width="7.7" height="8"/><use href="#c" x="679.7" y="261" width="7.7" height="8"/><use href="#c" x="679.7" y="273.3" width="7.7" height="8"/><use href="#c" x="679.7" y="285.7" width="7.7" height="8"/><use href="#c" x="679.7" y="298" width="7.7" height="8"/><use href="#c" x="679.7" y="310" width="7.7" height="8"/><use href="#c" x="679.7" y="321.7" width="7.7" height="8"/>
<use href="#c" x="716.7" y="200.7" width="7.7" height="10"/><use href="#c" x="716.7" y="213.3" width="7.7" height="10"/><use href="#c" x="716.7" y="226" width="7.7" height="10"/><use href="#c" x="716.7" y="238.7" width="7.7" height="10"/><use href="#c" x="716.7" y="251" width="7.7" height="10"/><use href="#c" x="716.7" y="263" width="7.7" height="10"/><use href="#c" x="716.7" y="275" width="7.7" height="10"/><use href="#c" x="716.7" y="287.3" width="7.7" height="10"/><use href="#c" x="716.7" y="299.3" width="7.7" height="10"/><use href="#c" x="716.7" y="311.3" width="7.7" height="10"/><use href="#c" x="716.7" y="323.3" width="7.7" height="10"/>
<use href="#c" x="747.3" y="254" width="9.3" height="28"/><use href="#c" x="763.7" y="264" width="8" height="8"/><use href="#s" x="690.7" y="258.3" width="4.7" height="3"/><use href="#m" x="681.7" y="270" width="18" height="2.7"/></g>
<g id="group-k"><use href="#c" x="491" y="356.7" width="7.3" height="8.7"/><use href="#y" x="503.3" y="359.7" width="7.3" height="3"/><use href="#y" x="503.3" y="368.7" width="7.3" height="3"/><use href="#c" x="513.3" y="357.3" width="7.3" height="8"/><use href="#c" x="513.3" y="365.3" width="7.3" height="8"/><use href="#c" x="529.3" y="356" width="9.5" height="6.7"/><use href="#c" x="548" y="357.3" width="9.5" height="6.7"/><use href="#c" x="561" y="359.3" width="7.3" height="7.3"/><use href="#c" x="571.7" y="356.7" width="8" height="8"/><use href="#s" x="526.7" y="369.3" width="8" height="4"/><use href="#c" x="536" y="367.7" width="8" height="6"/>
<use href="#y" x="603.3" y="363.3" width="7.3" height="3"/><use href="#y" x="603.3" y="371.7" width="7.3" height="3"/><use href="#y" x="603.3" y="380" width="7.3" height="3"/><use href="#y" x="603.3" y="388.3" width="7.3" height="3"/><use href="#y" x="603.3" y="396.7" width="7.3" height="3"/><use href="#y" x="603.3" y="405" width="7.3" height="3"/><use href="#c" x="613.3" y="359.3" width="7.3" height="8.4"/><use href="#c" x="613.3" y="367.7" width="7.3" height="8.3"/><use href="#c" x="613.3" y="376" width="7.3" height="8.3"/><use href="#c" x="613.3" y="384.3" width="7.3" height="8.4"/><use href="#c" x="613.3" y="392.7" width="7.3" height="8.3"/><use href="#c" x="613.3" y="401" width="7.3" height="8"/><use href="#c" x="640.7" y="353.3" width="7.3" height="10"/><use href="#c" x="640.7" y="363.3" width="7.3" height="10"/><use href="#c" x="640.7" y="373.3" width="7.3" height="10"/><use href="#c" x="640.7" y="383.3" width="7.3" height="10"/><use href="#c" x="640.7" y="393.3" width="7.3" height="10"/><use href="#c" x="640.7" y="403.3" width="7.3" height="10"/><use href="#y" x="623.3" y="381" width="7.3" height="3"/><use href="#c" x="667.3" y="370.7" width="8" height="14.7"/><use href="#c" x="680.7" y="374" width="8" height="8"/><use href="#c" x="671.3" y="392" width="8" height="6.7"/><use href="#s" x="682" y="393.3" width="8" height="4"/><use href="#c" x="693.3" y="390" width="8" height="6.7"/><use href="#c" x="708.3" y="374" width="8" height="5.3"/></g>
<g id="group-l"><use href="#l" x="832.7" y="39" width="6" height="2.7"/><use href="#s" x="841.7" y="39" width="13" height="2.7"/><use href="#c" x="864" y="37.7" width="10" height="8"/><use href="#c" x="883.3" y="37.3" width="8" height="7.3"/><use href="#m" x="835" y="49.3" width="20" height="3"/><use href="#m" x="835" y="52.3" width="20" height="3"/><use href="#m" x="867.3" y="49.7" width="19" height="3"/><use href="#s" x="888" y="49" width="8" height="4"/><use href="#c" x="897.7" y="46.3" width="8" height="6.7"/><use href="#d" x="910.3" y="51" width="15.7" height="4.7"/></g>
<g id="group-m"><use href="#m" x="927.3" y="90" width="6" height="3.3"/><use href="#c" x="936" y="90" width="8" height="6"/><use href="#l" x="926" y="97.3" width="18.7" height="2.7"/><use href="#c" x="949" y="90" width="7.3" height="8"/><use href="#c" x="978.3" y="81" width="8" height="8"/><use href="#c" x="978.3" y="90" width="8" height="8"/><use href="#c" x="978.3" y="99.3" width="8" height="8"/><use href="#y" x="968" y="88" width="8.7" height="2.7"/><use href="#y" x="968" y="95.3" width="8.7" height="2.7"/><use href="#y" x="968" y="102" width="8.7" height="2.7"/><use href="#c" x="997.3" y="80" width="8" height="10.7"/><use href="#c" x="997.3" y="90.7" width="8" height="9.3"/><use href="#c" x="997.3" y="100" width="8" height="10.7"/><use href="#c" x="1009.3" y="80" width="8" height="6"/><use href="#c" x="1009.3" y="90" width="8" height="6"/><use href="#c" x="1024.3" y="106.7" width="8" height="6"/></g>
<g id="group-n"><use href="#l" x="830.3" y="97.3" width="6" height="2.7"/><use href="#c" x="838.3" y="94" width="8.7" height="8"/><use href="#y" x="849" y="97" width="8.7" height="2.7"/><use href="#c" x="859" y="94" width="8.7" height="8"/><use href="#c" x="882" y="95" width="8.7" height="10"/><use href="#l" x="830.3" y="123" width="6" height="2.7"/><use href="#c" x="838.3" y="120" width="8.7" height="8"/><use href="#y" x="849" y="123" width="8.7" height="2.7"/><use href="#c" x="859" y="120" width="8.7" height="8"/><use href="#c" x="882.7" y="120.7" width="7.3" height="10"/><use href="#s" x="899.3" y="123.7" width="8" height="4"/><use href="#c" x="909.3" y="120.7" width="8.7" height="6.7"/><use href="#y" x="861.3" y="132" width="10" height="2.7"/><use href="#c" x="872" y="129.3" width="8.7" height="8"/></g>
<g id="group-o"><use href="#m" x="804" y="149" width="6" height="2.7"/><use href="#s" x="814" y="149" width="13" height="2.7"/><use href="#l" x="821.3" y="153" width="6.7" height="2.7"/><use href="#c" x="833.3" y="148.7" width="8" height="5.3"/><use href="#c" x="853.7" y="148" width="8" height="8"/><use href="#m" x="830" y="162.7" width="21" height="3"/><use href="#l" x="872.7" y="160.3" width="22.7" height="3"/><use href="#l" x="872.7" y="163.3" width="22.7" height="3"/><use href="#l" x="872.7" y="173" width="22.7" height="2.7"/><use href="#c" x="898" y="157" width="8" height="8"/><use href="#c" x="898" y="170" width="8" height="5.3"/><use href="#c" x="911" y="159" width="8" height="8"/><use href="#sq" x="923" y="153.3"/><use href="#c" x="947.3" y="166.7" width="8" height="8"/><use href="#c" x="965" y="151.3" width="7.3" height="5.3"/><use href="#s" x="974.7" y="152" width="8" height="4"/><use href="#c" x="992" y="147.3" width="8.7" height="6.7"/><use href="#c" x="1004" y="148" width="8" height="10"/><use href="#s" x="1026.7" y="150.3" width="8" height="4"/><use href="#c" x="1036.7" y="147.3" width="8.7" height="7.3"/></g>
<g id="group-p"><use href="#m" x="796.7" y="198.7" width="5.3" height="2.7"/><use href="#m" x="796.7" y="202" width="5.3" height="2.7"/><use href="#s" x="804" y="198.7" width="14" height="2.7"/><use href="#s" x="804" y="202" width="14" height="2.7"/><use href="#c" x="819" y="198.7" width="7.3" height="5.3"/><use href="#c" x="853" y="197.3" width="8" height="8"/><use href="#m" x="829.3" y="212.7" width="21" height="2.7"/><use href="#l" x="872" y="210" width="22.7" height="3"/><use href="#l" x="872" y="213" width="22.7" height="3"/><use href="#l" x="872" y="223.3" width="22.7" height="2.7"/><use href="#c" x="897.3" y="207" width="8" height="8"/><use href="#c" x="897.3" y="220" width="8" height="6"/><use href="#c" x="910.3" y="209.3" width="8" height="7.3"/><use href="#gd" x="922.7" y="203.3"/><use href="#c" x="946.7" y="216.7" width="8" height="8"/><use href="#c" x="962" y="200.7" width="7.3" height="5.3"/><use href="#s" x="977" y="203.3" width="8" height="4"/><use href="#c" x="991.3" y="197.3" width="8.7" height="6.7"/><use href="#c" x="1003.3" y="197.3" width="8.7" height="10"/><use href="#m" x="1021" y="202" width="6.7" height="3.3"/></g>
<g id="group-q"><use href="#c" x="803.3" y="290.3" width="8" height="8"/><use href="#c" x="827" y="292" width="8" height="8"/><use href="#y" x="884" y="294.7" width="8.7" height="2.7"/><use href="#c" x="894.7" y="291" width="8" height="8"/><use href="#c" x="912.7" y="291" width="10" height="7.3"/><use href="#c" x="930.7" y="292" width="10" height="8"/><use href="#c" x="945.7" y="294" width="7.3" height="8"/><use href="#c" x="958.3" y="292" width="8" height="8"/>
<use href="#y" x="991.3" y="274" width="6.5" height="2.7"/><use href="#y" x="991.3" y="281.7" width="6.5" height="2.7"/><use href="#y" x="991.3" y="289" width="6.5" height="2.7"/><use href="#y" x="991.3" y="296" width="6.5" height="2.7"/><use href="#y" x="991.3" y="303.7" width="6.5" height="2.7"/><use href="#y" x="991.3" y="311" width="6.5" height="2.7"/><use href="#y" x="991.3" y="318.7" width="6.5" height="2.7"/>
<use href="#c" x="999.3" y="270" width="7.3" height="7.4"/><use href="#c" x="999.3" y="277.4" width="7.3" height="7.4"/><use href="#c" x="999.3" y="284.8" width="7.3" height="7.4"/><use href="#c" x="999.3" y="292.2" width="7.3" height="7.4"/><use href="#c" x="999.3" y="299.6" width="7.3" height="7.4"/><use href="#c" x="999.3" y="307" width="7.3" height="7.4"/><use href="#c" x="999.3" y="314.4" width="7.3" height="7.4"/>
<use href="#c" x="1025.3" y="261.3" width="7.3" height="8.4"/><use href="#c" x="1025.3" y="269.7" width="7.3" height="8.4"/><use href="#c" x="1025.3" y="278.1" width="7.3" height="8.4"/><use href="#c" x="1025.3" y="286.5" width="7.3" height="8.4"/><use href="#c" x="1025.3" y="294.9" width="7.3" height="8.4"/><use href="#c" x="1025.3" y="303.3" width="7.3" height="8.4"/><use href="#c" x="1025.3" y="311.7" width="7.3" height="8.4"/><use href="#c" x="1025.3" y="320.1" width="7.3" height="8.4"/>
<use href="#y" x="1011.7" y="294.7" width="7.3" height="2.7"/><use href="#l" x="996.3" y="326.3" width="18.7" height="2.7"/><use href="#c" x="1055.3" y="286.3" width="10.7" height="19.3"/><use href="#c" x="1070" y="291.7" width="8" height="8.7"/><use href="#c" x="1081.7" y="286.7" width="7.3" height="6"/><use href="#c" x="1082" y="296" width="8" height="8"/><use href="#c" x="1096.7" y="296" width="8" height="8"/><use href="#c" x="1108.3" y="296.7" width="8" height="10"/><use href="#y" x="1085.7" y="306.7" width="8.7" height="3.3"/><use href="#y" x="1085.7" y="310.7" width="8.7" height="3.3"/><use href="#m" x="1060.3" y="306.3" width="18.7" height="3"/><use href="#c" x="1098.7" y="307.3" width="8" height="8"/><use href="#c" x="1108.7" y="308" width="8.7" height="10.7"/></g>
<g id="group-r"><use href="#s" x="847.3" y="335.3" width="13.3" height="3"/><use href="#c" x="911.3" y="332.7" width="8" height="5.3"/><use href="#m" x="906" y="340.3" width="18.7" height="3"/><use href="#c" x="926" y="333.3" width="8" height="8"/><use href="#m" x="940" y="346.7" width="22" height="3"/><use href="#m" x="940" y="349.7" width="22" height="3"/><use href="#m" x="939" y="355.3" width="22" height="3"/><use href="#c" x="963" y="343" width="8" height="8"/><use href="#c" x="963.7" y="352" width="8" height="5.3"/><use href="#c" x="977.3" y="345.3" width="8" height="7.3"/><rect x="996" y="342" width="12.7" height="12" fill="#b4b5c4" stroke="#111" stroke-width="2"/><use href="#c" x="1020" y="348.3" width="8" height="8"/><use href="#s" x="1041" y="338.7" width="8" height="4"/><use href="#c" x="1058.7" y="333.7" width="8" height="6"/><use href="#c" x="1072" y="333.7" width="8" height="9.3"/><use href="#c" x="1109.3" y="331.7" width="8.7" height="8"/><use href="#l" x="827.3" y="359.3" width="20" height="2.7"/><use href="#c" x="845.7" y="354.7" width="8" height="8"/></g>
<g id="group-s"><use href="#c" x="827" y="396" width="8" height="8"/><use href="#s" x="875.3" y="397.3" width="8" height="5.3"/><use href="#c" x="885.3" y="395" width="8.7" height="8"/><use href="#y" x="895" y="398" width="8.7" height="2.7"/><use href="#c" x="905" y="394.7" width="8" height="8"/><use href="#c" x="916.7" y="395" width="10" height="7.3"/><use href="#c" x="932" y="396" width="10" height="7.3"/><use href="#c" x="946.3" y="398" width="8" height="8"/><use href="#c" x="960" y="395.7" width="8" height="8"/>
<use href="#y" x="992.7" y="378.3" width="6" height="2.7"/><use href="#y" x="992.7" y="385.3" width="6" height="2.7"/><use href="#y" x="992.7" y="393" width="6" height="2.7"/><use href="#y" x="992.7" y="400.7" width="6" height="2.7"/><use href="#y" x="992.7" y="407.7" width="6" height="2.7"/><use href="#y" x="992.7" y="415" width="6" height="2.7"/><use href="#y" x="992.7" y="422" width="6" height="2.7"/>
<use href="#c" x="1000.3" y="374.3" width="8" height="7.2"/><use href="#c" x="1000.3" y="381.5" width="8" height="7.2"/><use href="#c" x="1000.3" y="388.7" width="8" height="7.2"/><use href="#c" x="1000.3" y="395.9" width="8" height="7.2"/><use href="#c" x="1000.3" y="403.1" width="8" height="7.2"/><use href="#c" x="1000.3" y="410.3" width="8" height="7.2"/><use href="#c" x="1001.3" y="418" width="7.3" height="8"/>
<use href="#c" x="1026" y="365.3" width="8" height="8.4"/><use href="#c" x="1026" y="373.7" width="8" height="8.4"/><use href="#c" x="1026" y="382.1" width="8" height="8.4"/><use href="#c" x="1026" y="390.5" width="8" height="8.4"/><use href="#c" x="1026" y="398.9" width="8" height="8.4"/><use href="#c" x="1026" y="407.3" width="8" height="8.4"/><use href="#c" x="1026" y="415.7" width="8" height="8.4"/><use href="#c" x="1026" y="424.1" width="8" height="8.4"/>
<use href="#y" x="1011.7" y="400" width="7.3" height="2.7"/><use href="#c" x="1056.3" y="390.3" width="9.3" height="19.3"/><use href="#c" x="1071" y="395.7" width="8" height="8"/></g>
<g id="group-t"><use href="#c" x="1127.7" y="393.7" width="10.7" height="10"/><use href="#c" x="1127.7" y="407" width="10.7" height="10"/><use href="#c" x="1148" y="394.7" width="10" height="5.3"/><use href="#c" x="1148" y="407.7" width="10" height="5.3"/></g>
<g id="group-u"><use href="#c" x="835" y="465.3" width="8" height="8"/><use href="#y" x="873" y="463" width="8.7" height="2.7"/><use href="#c" x="885.3" y="458.7" width="8" height="8"/><use href="#c" x="909.3" y="455" width="10" height="7.3"/><use href="#c" x="928.3" y="456.7" width="10" height="6.7"/><use href="#c" x="942.7" y="458" width="8" height="8"/><use href="#c" x="956.3" y="455.7" width="8" height="8"/>
<use href="#y" x="988.3" y="441.7" width="6" height="2.7"/><use href="#y" x="988.3" y="450" width="6" height="2.7"/><use href="#y" x="988.3" y="457.3" width="6" height="2.7"/><use href="#y" x="988.3" y="464.7" width="6" height="2.7"/><use href="#y" x="988.3" y="472" width="6" height="2.7"/><use href="#y" x="988.3" y="479.3" width="6" height="2.7"/>
<use href="#c" x="996.7" y="437.3" width="7.3" height="7.3"/><use href="#c" x="996.7" y="444.6" width="7.3" height="7.3"/><use href="#c" x="996.7" y="451.9" width="7.3" height="7.3"/><use href="#c" x="996.7" y="459.2" width="7.3" height="7.3"/><use href="#c" x="996.7" y="466.5" width="7.3" height="7.3"/><use href="#c" x="996.7" y="473.8" width="7.3" height="7.3"/>
<use href="#c" x="1034.7" y="435.3" width="7.3" height="8.2"/><use href="#c" x="1034.7" y="443.5" width="7.3" height="8.2"/><use href="#c" x="1034.7" y="451.7" width="7.3" height="8.2"/><use href="#c" x="1034.7" y="459.9" width="7.3" height="8.2"/><use href="#c" x="1034.7" y="468.1" width="7.3" height="8.2"/><use href="#c" x="1034.7" y="476.3" width="7.3" height="8.2"/><use href="#c" x="1034.7" y="484.5" width="7.3" height="8.2"/>
<use href="#y" x="1008.3" y="459.3" width="6" height="3.3"/><use href="#c" x="1067.7" y="451.3" width="8" height="16.7"/><use href="#c" x="1082" y="456" width="8.7" height="8"/></g>
<g id="group-v"><use href="#m" x="828.3" y="516" width="22" height="3.5"/><use href="#m" x="828.3" y="519.5" width="22" height="3.5"/><use href="#m" x="828.3" y="525.3" width="22" height="3.7"/><use href="#m" x="828.3" y="529" width="22" height="3.7"/><use href="#m" x="828.3" y="532.7" width="22" height="3.7"/><use href="#m" x="828.3" y="536.4" width="22" height="3.7"/><use href="#m" x="828.3" y="540.1" width="22" height="3.7"/><use href="#m" x="828.3" y="543.8" width="22" height="3.7"/><use href="#m" x="828.3" y="547.5" width="22" height="3.7"/><use href="#m" x="828.3" y="551.2" width="22" height="3.7"/><use href="#m" x="828.3" y="554.9" width="22" height="3.7"/><use href="#m" x="828.3" y="558.6" width="22" height="3.4"/>
<use href="#c" x="852.3" y="515.3" width="8" height="7.4"/><use href="#c" x="852.3" y="522.7" width="8" height="7.4"/><use href="#c" x="852.3" y="530.1" width="8" height="7.4"/><use href="#c" x="852.3" y="537.5" width="8" height="7.4"/><use href="#c" x="852.3" y="544.9" width="8" height="7.4"/><use href="#c" x="852.3" y="552.3" width="8" height="7.4"/>
<use href="#c" x="878.7" y="526" width="10.7" height="14.7"/><use href="#c" x="901.3" y="525" width="8" height="8"/><use href="#y" x="913.3" y="528" width="8" height="3.3"/><use href="#c" x="922.7" y="525" width="8" height="8"/><use href="#c" x="933.3" y="526" width="10" height="6.7"/><use href="#c" x="947.3" y="527.3" width="10" height="6.7"/><use href="#c" x="961.7" y="529" width="8" height="8"/><use href="#c" x="974.7" y="526.7" width="8" height="8"/><use href="#l" x="910.7" y="508.7" width="12.7" height="3"/><use href="#c" x="901.3" y="546" width="8" height="8"/><use href="#y" x="912.3" y="548.7" width="8.7" height="3"/><use href="#c" x="922" y="545.7" width="8" height="8"/><use href="#m" x="866.7" y="560.3" width="20" height="3"/><use href="#c" x="888.3" y="558" width="8" height="8"/>
<use href="#y" x="996.7" y="509.3" width="6" height="2.7"/><use href="#y" x="996.7" y="517.3" width="6" height="2.7"/><use href="#y" x="996.7" y="525" width="6" height="2.7"/><use href="#y" x="996.7" y="532" width="6" height="2.7"/><use href="#y" x="996.7" y="539.3" width="6" height="2.7"/><use href="#y" x="996.7" y="546.7" width="6" height="2.7"/><use href="#y" x="996.7" y="554" width="6" height="2.7"/><use href="#y" x="996.7" y="561.7" width="6" height="2.7"/><use href="#y" x="996.7" y="569" width="6" height="2.7"/><use href="#y" x="996.7" y="576" width="6" height="2.7"/>
<use href="#c" x="1004.7" y="505.3" width="7.3" height="7.3"/><use href="#c" x="1004.7" y="512.6" width="7.3" height="7.3"/><use href="#c" x="1004.7" y="519.9" width="7.3" height="7.3"/><use href="#c" x="1004.7" y="527.2" width="7.3" height="7.3"/><use href="#c" x="1004.7" y="534.5" width="7.3" height="7.3"/><use href="#c" x="1004.7" y="541.8" width="7.3" height="7.3"/><use href="#c" x="1004.7" y="549.1" width="7.3" height="7.3"/><use href="#c" x="1004.7" y="556.4" width="7.3" height="7.3"/><use href="#c" x="1004.7" y="563.7" width="7.3" height="7.3"/><use href="#c" x="1004.7" y="571" width="7.3" height="7.3"/>
<use href="#c" x="1030.7" y="496.7" width="7.3" height="8.7"/><use href="#c" x="1030.7" y="505.4" width="7.3" height="8.7"/><use href="#c" x="1030.7" y="514.1" width="7.3" height="8.7"/><use href="#c" x="1030.7" y="522.8" width="7.3" height="8.7"/><use href="#c" x="1030.7" y="531.5" width="7.3" height="8.7"/><use href="#c" x="1030.7" y="540.2" width="7.3" height="8.7"/><use href="#c" x="1030.7" y="548.9" width="7.3" height="8.7"/><use href="#c" x="1030.7" y="557.6" width="7.3" height="8.7"/><use href="#c" x="1030.7" y="566.3" width="7.3" height="8.7"/><use href="#c" x="1030.7" y="575" width="7.3" height="8.7"/><use href="#c" x="1030.7" y="583.7" width="7.3" height="8.7"/>
<use href="#y" x="1016" y="530.7" width="6" height="2.7"/><use href="#c" x="1067.3" y="518" width="8.7" height="25.3"/><use href="#c" x="1082" y="527" width="8.7" height="8"/></g>
<g id="group-w"><use href="#m" x="1186" y="287.3" width="6.7" height="3.3"/><use href="#s" x="1196.7" y="287.3" width="13.3" height="3.3"/><use href="#m" x="1173.3" y="293.3" width="18.7" height="3"/><use href="#c" x="1193.3" y="290.7" width="8.7" height="8.7"/><use href="#m" x="1204" y="293.7" width="6.7" height="3"/><use href="#c" x="1215.7" y="287.3" width="8" height="5.3"/><use href="#c" x="1236" y="286" width="8" height="8"/><use href="#m" x="1212" y="301" width="22" height="3"/><use href="#l" x="1255" y="299" width="22.7" height="3"/><use href="#l" x="1255" y="302" width="22.7" height="3"/><use href="#l" x="1255" y="312" width="22.7" height="2.7"/><use href="#c" x="1280.3" y="295" width="8" height="8"/><use href="#c" x="1281" y="308.3" width="8" height="6"/><use href="#c" x="1293" y="297.7" width="8" height="8"/><use href="#sq" x="1305.3" y="291.7"/><use href="#c" x="1330" y="305.3" width="8" height="8"/><use href="#c" x="1347.3" y="290" width="7.3" height="5.3"/><use href="#s" x="1357" y="290.3" width="8" height="4"/><use href="#c" x="1374.3" y="286" width="8.7" height="6.7"/><use href="#c" x="1386.7" y="286" width="8" height="10"/></g>
<g id="group-x"><use href="#m" x="1173.3" y="329.3" width="18.7" height="3"/><use href="#c" x="1193.3" y="326.7" width="8.7" height="8"/><use href="#m" x="1204" y="329.3" width="6.7" height="3"/><use href="#c" x="1215.7" y="321.3" width="8" height="5.3"/><use href="#c" x="1236" y="320" width="8" height="8"/><use href="#m" x="1212" y="335.7" width="22" height="3"/><use href="#l" x="1255.7" y="333.3" width="22.7" height="3"/><use href="#l" x="1255.7" y="336.3" width="22.7" height="3"/><use href="#m" x="1255.7" y="345.3" width="22.7" height="3"/><use href="#c" x="1281" y="329.3" width="8" height="8"/><use href="#c" x="1281" y="342.7" width="8" height="6"/><use href="#c" x="1293" y="332" width="8" height="8"/><use href="#sq" x="1305.3" y="326"/><use href="#c" x="1330" y="339.3" width="8" height="8"/><use href="#s" x="1357" y="324.7" width="8" height="4"/><use href="#c" x="1374.3" y="320" width="8.7" height="6.7"/><use href="#c" x="1386.7" y="320" width="8" height="10"/></g>
<g id="group-y"><use href="#m" x="1175.3" y="375" width="6" height="2.7"/><use href="#m" x="1175.3" y="378" width="6" height="2.7"/><use href="#s" x="1183" y="375" width="13" height="2.7"/><use href="#s" x="1183" y="378" width="13" height="2.7"/><use href="#c" x="1200" y="374.3" width="7.3" height="5.3"/><use href="#c" x="1234" y="373.3" width="8" height="8"/><use href="#l" x="1212" y="389" width="21.3" height="2.7"/><use href="#l" x="1253.3" y="386" width="22.7" height="3"/><use href="#l" x="1253.3" y="389" width="22.7" height="3"/><use href="#l" x="1253.3" y="399.3" width="22.7" height="2.7"/><use href="#c" x="1278.3" y="382.3" width="8" height="8"/><use href="#c" x="1278.3" y="395.7" width="8" height="6"/><use href="#c" x="1291" y="384.7" width="8" height="8"/><use href="#gd" x="1303.3" y="379.3"/><use href="#c" x="1327.7" y="392.3" width="8" height="8"/><use href="#c" x="1343.3" y="376.7" width="7.3" height="5.3"/><use href="#s" x="1357.7" y="379.7" width="8" height="4"/><use href="#c" x="1372" y="373" width="8.7" height="6.7"/><use href="#c" x="1384.3" y="373" width="8.7" height="10.7"/><use href="#m" x="1395.7" y="374" width="6.7" height="2.7"/></g>
<g id="group-z"><use href="#y" x="1212" y="426" width="8.7" height="3.7"/><use href="#y" x="1212" y="436" width="8.7" height="3.7"/><use href="#y" x="1212" y="446" width="8.7" height="3.7"/><use href="#c" x="1226" y="424" width="8.7" height="8"/><use href="#c" x="1226" y="434" width="8.7" height="8"/><use href="#c" x="1226" y="444" width="8.7" height="8"/><use href="#c" x="1240" y="424.3" width="8" height="10"/><use href="#c" x="1240" y="434.3" width="8" height="10"/><use href="#c" x="1240" y="444.3" width="8" height="10"/><use href="#c" x="1260.3" y="421.3" width="10.7" height="29.3"/><use href="#c" x="1282.3" y="430" width="8" height="6"/><use href="#c" x="1293.3" y="431.3" width="7.3" height="6"/><use href="#c" x="1307" y="428" width="8.7" height="10.3"/><use href="#c" x="1307" y="438.3" width="8.7" height="10.4"/><use href="#c" x="1319.3" y="419.3" width="8.7" height="10.7"/><use href="#c" x="1334" y="422" width="8" height="8.7"/><use href="#m" x="1331.3" y="430" width="18" height="3"/><use href="#c" x="1353" y="424" width="8" height="8"/><use href="#c" x="1385.3" y="426" width="8" height="10.7"/></g>
<g id="green-1"><use href="#y" x="1095.3" y="45.3" width="9.3" height="3"/><use href="#y" x="1095.3" y="55.7" width="9.3" height="3"/><use href="#c" x="1106" y="41" width="8.7" height="8"/><use href="#c" x="1106" y="50.7" width="8.7" height="8"/><use href="#y" x="1119.3" y="43" width="9.3" height="3"/><use href="#c" x="1132.7" y="41" width="8.7" height="8"/><use href="#m" x="1116.7" y="53.3" width="19.3" height="3"/><use href="#m" x="1116.7" y="62.3" width="19.3" height="3"/><use href="#c" x="1138.3" y="51" width="8" height="8"/><use href="#c" x="1138.3" y="59.7" width="8" height="8"/><use href="#c" x="1150.7" y="41" width="8" height="10.7"/><use href="#c" x="1151.3" y="55.7" width="8" height="6.7"/><use href="#c" x="1174.7" y="42" width="8" height="7.3"/><use href="#c" x="1174.7" y="51" width="8" height="8"/><use href="#y" x="1165.3" y="59.3" width="6.7" height="3"/><use href="#s" x="1186.7" y="43" width="8" height="4.7"/><use href="#y" x="1199.3" y="41.3" width="6.7" height="3.3"/><use href="#l" x="1186.7" y="56" width="6.7" height="3"/><use href="#c" x="1195" y="53.3" width="8.7" height="12.7"/><use href="#l" x="1173.3" y="63.3" width="20" height="2.7"/><use href="#c" x="1211" y="39" width="8" height="8"/></g>
<g id="green-2"><use href="#s" x="1094.7" y="82" width="6" height="2.7"/><use href="#l" x="1094.7" y="86.7" width="6" height="2.3"/><use href="#s" x="1094.7" y="90.7" width="6" height="2.7"/><use href="#c" x="1104" y="81" width="8" height="6"/><use href="#c" x="1102" y="90.7" width="9.3" height="6"/><use href="#s" x="1116" y="79.3" width="6.7" height="3.3"/><use href="#s" x="1116" y="84" width="6.7" height="3.3"/><use href="#s" x="1116" y="88.3" width="6.7" height="3.3"/><use href="#s" x="1116" y="92.7" width="6.7" height="3.3"/><use href="#c" x="1126.7" y="79.3" width="10.7" height="14.7"/><use href="#c" x="1144" y="84.3" width="8" height="6"/><use href="#l" x="1132.3" y="95.3" width="20" height="2.7"/><use href="#c" x="1154" y="93.3" width="7.3" height="5.3"/><use href="#c" x="1168" y="86" width="8.7" height="10.7"/><use href="#m" x="1169.3" y="96.7" width="18" height="3"/><use href="#m" x="1180.3" y="89.3" width="6" height="3"/><use href="#c" x="1190.7" y="90.7" width="8" height="5.3"/><use href="#s" x="1200.7" y="91" width="8" height="4"/><use href="#c" x="1210.7" y="89.3" width="8" height="5.3"/><use href="#s" x="1226" y="81" width="4.7" height="2.3"/><use href="#c" x="1225" y="88.3" width="8" height="8"/><use href="#m" x="1225.7" y="96.7" width="18" height="3"/><use href="#c" x="1246" y="90.3" width="8" height="8"/><use href="#d" x="1256" y="92.3" width="16" height="4"/><use href="#s" x="1273.3" y="92.3" width="8" height="4"/><use href="#y" x="1266.7" y="99.3" width="12" height="4"/><use href="#y" x="1266.7" y="103.7" width="12" height="4"/><use href="#c" x="1287.3" y="93" width="8" height="9.3"/><use href="#l" x="1260.7" y="86" width="18.7" height="2.7"/><use href="#c" x="1281.3" y="84.3" width="7.3" height="5.3"/><use href="#s" x="1292" y="85.3" width="8" height="3.7"/><use href="#c" x="1306" y="82.7" width="8.7" height="6"/><use href="#l" x="1306.7" y="90.3" width="18.7" height="2.7"/><use href="#c" x="1317.3" y="80.3" width="8.7" height="6"/><use href="#c" x="1328" y="83.3" width="8" height="5.3"/><use href="#s" x="1337.7" y="84" width="8" height="4"/><use href="#c" x="1347" y="81.3" width="8" height="6.7"/></g>
<g id="green-3"><use href="#gm"/><use href="#gm" y="28.3"/><use href="#c" x="1171.3" y="128" width="10" height="5.3"/><use href="#c" x="1171.3" y="159.3" width="10" height="5.3"/><use href="#l" x="1175" y="166.7" width="6" height="2.7"/><use href="#c" x="1200.3" y="128.7" width="8" height="10"/><use href="#c" x="1200.3" y="144.7" width="8" height="10"/><use href="#c" x="1200.3" y="164" width="8" height="10"/><use href="#s" x="1190" y="133.3" width="6" height="3.3"/><use href="#s" x="1190" y="137.3" width="6" height="3.3"/><use href="#l" x="1190" y="143.3" width="6" height="2.7"/><use href="#s" x="1190" y="148" width="6" height="2.7"/><use href="#s" x="1190" y="152" width="6" height="2.7"/><use href="#c" x="1186.7" y="160" width="7.3" height="6"/><use href="#c" x="1186.7" y="166" width="7.3" height="6"/><use href="#l" x="1188.3" y="173.3" width="6" height="2.7"/><use href="#s" x="1218.7" y="150" width="5.3" height="2.7"/><use href="#s" x="1218.7" y="159.3" width="5.3" height="2.7"/><use href="#c" x="1229.7" y="145.3" width="10.7" height="8"/><use href="#m" x="1230" y="157" width="19.3" height="3"/><use href="#s" x="1251" y="149.7" width="8" height="4.3"/><use href="#c" x="1263" y="148" width="8" height="6"/></g>
<g id="yellow-group"><use href="#s" x="1387.7" y="126.7" width="6" height="3"/><use href="#s" x="1387.7" y="130.7" width="6" height="3"/><use href="#s" x="1387.7" y="134.3" width="6" height="3"/><use href="#c" x="1396.7" y="128.3" width="8" height="8"/><use href="#l" x="1416" y="120" width="6" height="2.7"/><use href="#m" x="1431.7" y="117.3" width="6" height="3"/><use href="#s" x="1426.7" y="133.7" width="5.3" height="2.7"/><use href="#c" x="1446" y="117.3" width="8" height="10.7"/><use href="#c" x="1446" y="128" width="8" height="11"/><use href="#c" x="1446" y="139" width="8" height="11"/><use href="#c" x="1446" y="150" width="8" height="10"/><use href="#y" x="1459.3" y="122.3" width="7.3" height="4.3"/><use href="#c" x="1469.3" y="118" width="8" height="10.7"/><use href="#c" x="1482.7" y="121.7" width="8" height="12.7"/><use href="#c" x="1482.7" y="134.7" width="8" height="5.3"/><use href="#c" x="1482.7" y="141.7" width="8" height="5.3"/><use href="#l" x="1461" y="136" width="19.3" height="2.7"/><use href="#l" x="1461" y="143.3" width="19.3" height="2.7"/><use href="#s" x="1498" y="128" width="8" height="4"/><use href="#c" x="1507.7" y="126" width="8" height="6"/><use href="#s" x="1508" y="137" width="8" height="4.3"/><use href="#c" x="1520.7" y="134.7" width="8" height="6.7"/><use href="#y" x="1396" y="144.3" width="6.7" height="5.3"/><use href="#c" x="1406" y="142.3" width="8" height="6"/><use href="#y" x="1415.3" y="138" width="6.7" height="5.3"/><use href="#c" x="1423.3" y="141" width="8" height="6"/><use href="#y" x="1418" y="177.7" width="6.7" height="3.3"/><use href="#c" x="1426" y="175.3" width="8" height="6"/><use href="#y" x="1442" y="177.3" width="6.7" height="3.3"/><use href="#c" x="1452" y="181" width="8" height="6"/><use href="#c" x="1487.3" y="174" width="7.3" height="8.3"/><use href="#c" x="1487.3" y="182.3" width="7.3" height="8.4"/><use href="#c" x="1487.3" y="190.7" width="7.3" height="8"/></g>
<g id="green-4"><use href="#m" x="1445" y="288.3" width="20" height="3"/><use href="#c" x="1465.7" y="286.7" width="8" height="5.3"/><use href="#c" x="1480" y="285" width="10" height="11.3"/><use href="#m" x="1479.3" y="296" width="18.3" height="3"/><use href="#l" x="1491.3" y="289.3" width="6.7" height="3"/><use href="#c" x="1500" y="290" width="8" height="4.7"/><use href="#s" x="1510.7" y="290" width="8" height="4"/><use href="#c" x="1520.7" y="288" width="8" height="6"/><use href="#s" x="1536" y="280.3" width="4.7" height="2.3"/><use href="#m" x="1532.3" y="291" width="18.3" height="3"/><use href="#c" x="1552" y="289.3" width="8" height="5.3"/><use href="#s" x="1562.7" y="290" width="8" height="4"/><use href="#c" x="1577.3" y="287.7" width="8" height="6"/><use href="#c" x="1589" y="285.3" width="8" height="6"/><use href="#l" x="1578.3" y="296" width="18.7" height="2.7"/><use href="#c" x="1599.3" y="288.3" width="6.7" height="5.3"/><use href="#c" x="1608.7" y="289" width="7.3" height="4.7"/>
<use href="#m" x="1445" y="317.3" width="20" height="3"/><use href="#c" x="1480" y="314" width="10" height="11.3"/><use href="#m" x="1479.3" y="325.3" width="18.3" height="3"/><use href="#l" x="1494.7" y="318.3" width="6" height="2.7"/><use href="#c" x="1501.7" y="319.3" width="7.3" height="4.7"/><use href="#s" x="1511.3" y="319.7" width="8" height="4"/><use href="#c" x="1520" y="317.7" width="8" height="6"/><use href="#s" x="1536" y="308.3" width="4.7" height="2.3"/><use href="#l" x="1533.3" y="319" width="18.3" height="2.7"/><use href="#c" x="1553" y="317.3" width="8" height="5.3"/><use href="#s" x="1563.3" y="318" width="8" height="4"/><use href="#c" x="1576" y="317.3" width="8" height="6"/><use href="#c" x="1587.7" y="313" width="8" height="6"/><use href="#l" x="1579.3" y="325" width="18.7" height="2.7"/>
<use href="#m" x="1496" y="336.7" width="18.3" height="3.3"/><use href="#m" x="1496" y="340" width="18.3" height="3.4"/><use href="#c" x="1519.3" y="333.3" width="7.3" height="9.3"/><use href="#c" x="1539.3" y="336.7" width="8" height="6"/><use href="#c" x="1559.3" y="337.3" width="8" height="6"/><use href="#m" x="1495.3" y="349.3" width="18.7" height="2.7"/><use href="#c" x="1516" y="347.7" width="7.3" height="5.3"/><use href="#s" x="1527.7" y="348" width="8" height="4"/><use href="#m" x="1495.3" y="355.7" width="18.7" height="2.7"/><use href="#c" x="1517.3" y="354" width="7.3" height="5.3"/><use href="#s" x="1528.7" y="354.7" width="8" height="4"/></g>
<g id="output"><use href="#c" x="1616" y="272" width="10" height="10.7"/><use href="#c" x="1616" y="344.3" width="10" height="12.7"/><use href="#g" x="1632.3" y="275.7" width="8.7" height="5.3"/><use href="#g" x="1631.7" y="286.7" width="8.7" height="6"/><use href="#g" x="1632.3" y="314.3" width="8.7" height="5.3"/><use href="#g" x="1632.3" y="349.3" width="8.7" height="5.3"/><use href="#s" x="1623" y="314" width="6" height="6"/><use href="#c" x="1622" y="385" width="8" height="7.3"/><use href="#c" x="1622" y="458.3" width="8.7" height="10.7"/>
<use href="#gb" x="1595" y="308.3"/><use href="#up" x="1610.3" y="293.3"/><use href="#rt" x="1610.3" y="308.3"/><use href="#dn" x="1610.3" y="323.3"/><use href="#up" x="1648.3" y="293.3"/><use href="#rt" x="1648.3" y="308.3"/><use href="#dn" x="1648.3" y="323.3"/><use href="#gb" x="1663" y="308.3"/></g>
</svg>
